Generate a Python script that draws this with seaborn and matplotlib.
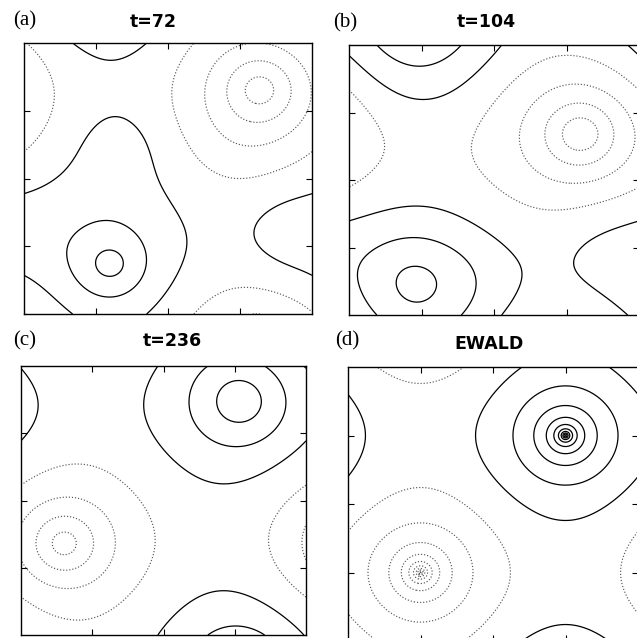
import numpy as np
import matplotlib
matplotlib.use("Agg")
import matplotlib.pyplot as plt
import seaborn as sns

# ---- data: smoothed charges (x, y, strength, width) ----
a_x = [0.30, 0.82, 0.33, 0.92, 0.74]
a_y = [0.18, 0.83, 0.62, 0.30, 0.62]
a_q = [0.70, -1.00, 0.33, 0.42, -0.12]
a_s = [0.05, 0.055, 0.07, 0.08, 0.08]

b_x = [0.22, 0.80, 0.42, 0.88, 0.23]
b_y = [0.14, 0.67, 0.13, 0.25, 0.97]
b_q = [0.62, -1.00, 0.20, 0.45, 0.52]
b_s = [0.08, 0.05, 0.08, 0.11, 0.12]

c_x = [0.77, 0.15]
c_y = [0.87, 0.34]
c_q = [0.90, -1.00]
c_s = [0.07, 0.05]

d_x = [0.75, 0.25]
d_y = [0.75, 0.25]
d_q = [1.00, -1.00]
d_s = [0.003, 0.003]

titles = ["t=72", "t=104", "t=236", "EWALD"]
labels = ["(a)", "(b)", "(c)", "(d)"]
pos_levels = [0.25, 0.75, 1.25, 1.75, 2.25, 2.75]
pos_levels_d = [0.25 + 0.5 * i for i in range(11)]
ticks = [0.25, 0.5, 0.75]


def periodic_potential(xs, ys, qs, ss, n):
    m = np.fft.fftfreq(n, d=1.0 / n)
    KX, KY = np.meshgrid(m, m, indexing="xy")
    k2 = (2 * np.pi) ** 2 * (KX ** 2 + KY ** 2)
    k2[0, 0] = 1.0
    ph = np.zeros((n, n), dtype=complex)
    for x, y, q, s in zip(xs, ys, qs, ss):
        ph += q * np.exp(-2j * np.pi * (KX * x + KY * y)) * np.exp(-k2 * s * s / 2)
    ph *= 2 * np.pi / k2
    ph[0, 0] = 0
    phi = np.real(np.fft.ifft2(ph)) * n * n
    phi = np.pad(phi, ((0, 1), (0, 1)), mode="wrap")
    g = np.arange(n + 1) / n
    X, Y = np.meshgrid(g, g)
    return X, Y, phi


sns.set_theme(style="white")
plt.rcParams["font.family"] = ["DejaVu Sans"]

W, H = 637, 638
fig = plt.figure(figsize=(W / 100, H / 100), dpi=100)
fig.patch.set_facecolor("white")

boxes = [(24, 314, 288, 271), (349, 315, 290, 270), (21, 635, 285, 269), (348, 641, 290, 274)]
data = [(a_x, a_y, a_q, a_s, 256, pos_levels),
        (b_x, b_y, b_q, b_s, 256, pos_levels),
        (c_x, c_y, c_q, c_s, 256, pos_levels),
        (d_x, d_y, d_q, d_s, 512, pos_levels_d)]
label_pos = [(13, 21), (333, 23), (13, 341), (335, 341)]
title_pos = [(153, 22), (486, 22), (172, 341), (489, 344)]

for i in range(4):
    l, b, w, h = boxes[i]
    ax = fig.add_axes([l / W, 1 - b / H, w / W, h / H])
    xs, ys, qs, ss, n, lev = data[i]
    X, Y, Z = periodic_potential(xs, ys, qs, ss, n)
    ax.contour(X, Y, Z, levels=lev, colors="black", linewidths=0.9, linestyles="solid")
    ax.contour(X, Y, Z, levels=sorted([-v for v in lev]), colors="0.35", linewidths=0.85,
               linestyles=[(0, (1, 1.6))])
    ax.set_xlim(0, 1)
    ax.set_ylim(0, 1)
    ax.set_xticks(ticks)
    ax.set_yticks(ticks)
    ax.tick_params(direction="in", length=4, width=0.8, top=True, right=True,
                   bottom=True, left=True, labelbottom=False, labelleft=False, colors="black")
    for sp in ax.spines.values():
        sp.set_color("black")
        sp.set_linewidth(1.0)
        sp.set_visible(True)
    ax.set_facecolor("white")
    lx, ly = label_pos[i]
    fig.text(lx / W, 1 - ly / H, labels[i], family=["Liberation Serif", "DejaVu Serif"],
             fontsize=15, ha="left", va="center", color="black")
    tx, ty = title_pos[i]
    fig.text(tx / W, 1 - ty / H, titles[i], fontweight="bold", fontsize=12.5,
             ha="center", va="center", color="black")

fig.savefig("out.png", dpi=100, facecolor="white")
